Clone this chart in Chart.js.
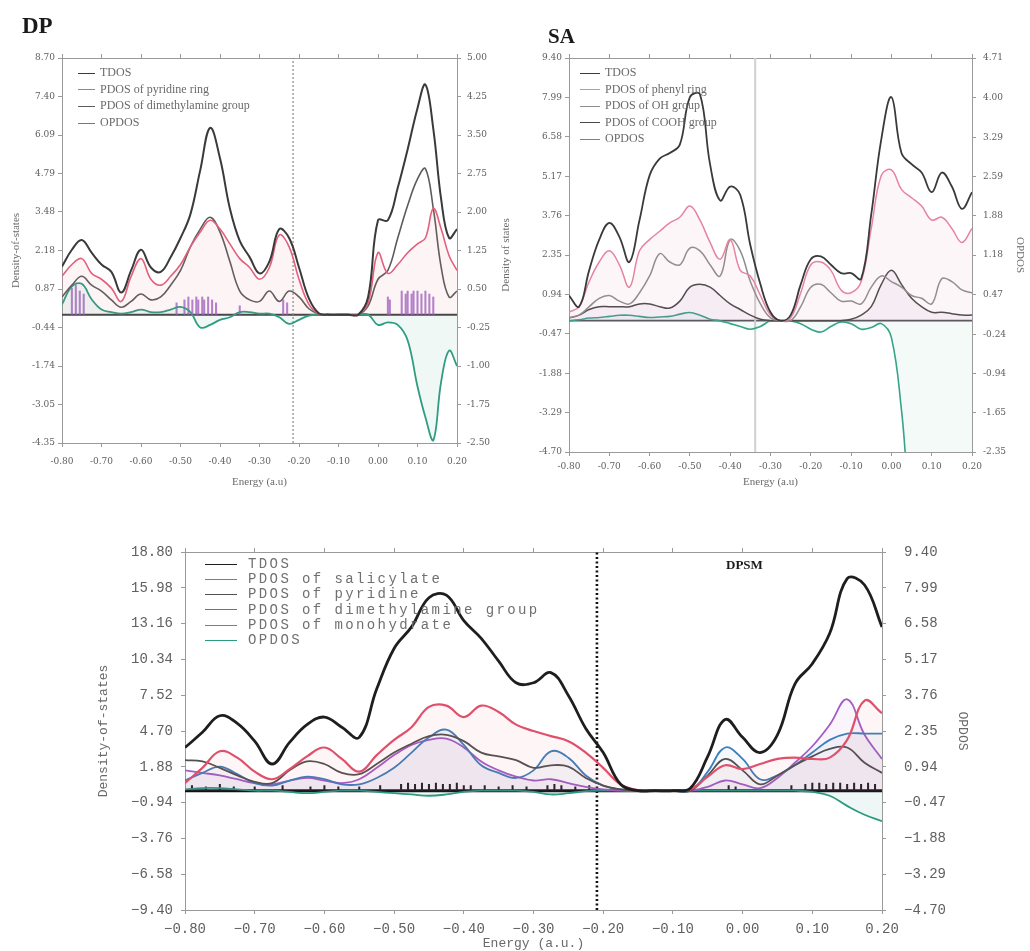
<!DOCTYPE html>
<html>
<head>
<meta charset="utf-8">
<title>DOS / OPDOS</title>
<script src="https://cdn.jsdelivr.net/npm/chart.js@4.4.1/dist/chart.umd.min.js"></script>
<style>
  body { margin:0; background:#fff; width:1030px; height:951px; position:relative; overflow:hidden; }
  canvas { position:absolute; }
  .ttl { position:absolute; font-family:"Liberation Serif",serif; font-weight:bold; color:#1a1a1a; }
  .leg { position:absolute; color:#6a6a6a; }
  .leg div { white-space:nowrap; }
  .leg i { display:inline-block; vertical-align:middle; border-top:1.5px solid; }
</style>
</head>
<body>
<canvas id="dp" width="510" height="495" style="left:0;top:0"></canvas>
<canvas id="sa" width="530" height="495" style="left:500px;top:0"></canvas>
<canvas id="dpsm" width="900" height="441" style="left:90px;top:510px"></canvas>
<div class="ttl" style="left:22px;top:13px;font-size:23px">DP</div>
<div class="ttl" style="left:548px;top:24px;font-size:21px">SA</div>
<div class="ttl" style="left:726px;top:557px;font-size:13px">DPSM</div>
<div class="leg" id="dpLeg" style="left:78px;top:64px;font:12px 'Liberation Serif',serif;line-height:16.7px"></div>
<div class="leg" id="saLeg" style="left:580px;top:64px;font:12px 'Liberation Serif',serif;line-height:16.5px"></div>
<div class="leg" id="dpsmLeg" style="left:205px;top:557px;font:14px 'Liberation Mono',monospace;letter-spacing:2.4px;line-height:15.2px;color:#707070"></div>
<script>
// shared energy ticks (a.u.)
const xTicks = [-0.8, -0.7, -0.6, -0.5, -0.4, -0.3, -0.2, -0.1, 0, 0.1, 0.2]

// ---------- DP ----------
const dpX = [-0.80,-0.775,-0.75,-0.725,-0.70,-0.675,-0.65,-0.625,-0.60,-0.575,-0.55,-0.525,-0.50,-0.475,-0.45,-0.425,-0.40,-0.375,-0.35,-0.325,-0.30,-0.275,-0.25,-0.225,-0.20,-0.175,-0.15,-0.125,-0.10,-0.075,-0.05,-0.025,0.00,0.025,0.05,0.075,0.10,0.12,0.14,0.16,0.18,0.20]
const dpTdos = [1.63,2.2,2.53,2.1,1.7,1.45,0.75,1.5,2.2,1.6,1.45,1.95,2.6,3.4,4.9,6.33,5.3,3.6,2.5,1.95,1.4,1.8,2.9,2.6,1.6,0.55,0.05,0,0,0,0,0.6,3.2,3.2,4.3,5.6,7.0,7.8,6.3,3.9,2.6,2.9]
const dpPyridine = [1.3,1.7,1.9,1.4,1.2,0.9,0.45,1.3,1.9,1.2,1.0,1.3,1.7,2.3,2.8,3.2,2.9,2.4,1.9,1.6,1.2,1.6,2.7,2.3,1.2,0.35,0.03,0,0,0,0,0.4,2.1,1.4,1.7,2.1,2.4,2.6,3.6,2.9,2.0,1.5]
const dpDimethyl = [0.6,1.0,1.3,1.0,0.8,0.5,0.25,0.45,0.7,0.5,0.6,1.0,1.5,2.3,2.9,3.3,2.8,1.8,0.8,0.5,0.45,0.8,0.45,0.8,0.6,0.2,0.02,0,0,0,0,0.3,1.2,1.5,2.6,3.7,4.6,4.95,3.6,1.6,0.6,0.8]
const dpOpdos = [0.2,0.55,0.6,0.3,0.1,0.05,0.02,0.05,0.1,0.05,0.05,0.1,0.15,0.05,-0.25,-0.2,-0.1,-0.05,0.05,0.05,0.02,0.02,-0.05,-0.18,-0.1,-0.02,0,0,0,0,0,0,-0.2,-0.15,-0.2,-0.5,-1.4,-2.0,-2.45,-1.3,-0.7,-1.0]
const dpStickX = [-0.775,-0.765,-0.755,-0.745,-0.51,-0.49,-0.48,-0.47,-0.46,-0.455,-0.445,-0.44,-0.43,-0.42,-0.41,-0.35,-0.24,-0.23,0.025,0.03,0.06,0.07,0.075,0.085,0.09,0.10,0.11,0.12,0.13,0.14]
const dpStickH = [0.9,1.0,0.8,0.7,0.4,0.5,0.6,0.5,0.6,0.5,0.6,0.5,0.6,0.5,0.4,0.3,0.5,0.4,0.6,0.5,0.8,0.7,0.8,0.7,0.8,0.8,0.7,0.8,0.7,0.6]
const dpLeftTicks = ['8.70','7.40','6.09','4.79','3.48','2.18','0.87','-0.44','-1.74','-3.05','-4.35']
const dpRightTicks = ['5.00','4.25','3.50','2.75','2.00','1.25','0.50','-0.25','-1.00','-1.75','-2.50']
const dpSplit = -0.215

// ---------- SA ----------
const saX = [-0.80,-0.775,-0.75,-0.725,-0.70,-0.675,-0.65,-0.625,-0.60,-0.575,-0.55,-0.525,-0.50,-0.475,-0.45,-0.425,-0.40,-0.375,-0.35,-0.325,-0.30,-0.275,-0.25,-0.225,-0.20,-0.175,-0.15,-0.125,-0.10,-0.075,-0.05,-0.025,0.00,0.025,0.05,0.075,0.10,0.125,0.15,0.175,0.20]
const saTdos = [0.9,0.5,1.8,2.9,3.5,3.0,2.1,3.6,5.2,5.8,6.0,6.3,8.0,8.1,5.6,4.3,4.8,4.5,2.7,1.3,0.3,0,0.2,1.3,2.2,2.3,2.0,1.7,1.7,1.5,3.8,6.5,8.0,6.0,5.6,5.3,4.6,5.3,4.8,4.0,4.6]
const saPhenyl = [0.3,0.5,1.4,2.1,2.5,2.0,1.2,2.5,2.9,3.2,3.5,3.7,4.1,3.6,2.8,2.2,2.9,1.8,1.6,0.9,0.2,0,0.1,1.0,2.0,2.1,1.8,1.1,1.0,1.4,3.3,5.2,5.4,4.7,4.4,4.1,3.6,3.7,3.3,2.8,3.3]
const saOh = [0.1,0.2,0.5,0.8,0.9,0.7,0.6,1.0,1.6,2.4,2.1,2.0,2.6,2.5,2.0,1.6,2.9,2.5,1.4,0.6,0.1,0,0,0.5,1.2,1.3,1.0,0.7,0.7,0.6,1.2,1.6,1.4,1.2,0.9,0.8,0.6,1.5,1.4,1.1,1.0]
const saCoo = [0.1,0.2,0.4,0.5,0.5,0.5,0.5,0.6,0.6,0.5,0.45,0.7,1.2,1.3,1.2,0.9,0.6,0.4,0.2,0.05,0,0,0,0,0,0,0,0,0.05,0.2,0.5,1.3,1.8,1.3,0.8,0.5,0.3,0.3,0.25,0.2,0.2]
const saOpdos = [0,0.02,0.05,0.06,0.08,0.1,0.1,0.08,0.06,0.07,0.08,0.12,0.15,0.1,0.03,0,-0.05,-0.1,-0.15,-0.1,0,0,0,-0.05,-0.15,-0.2,-0.1,-0.02,-0.05,-0.15,-0.12,-0.05,-0.3,-1.6,-3.5,-4,-4,-4,-4,-4,-4]
const saLeftTicks = ['9.40','7.99','6.58','5.17','3.76','2.35','0.94','-0.47','-1.88','-3.29','-4.70']
const saRightTicks = ['4.71','4.00','3.29','2.59','1.88','1.18','0.47','-0.24','-0.94','-1.65','-2.35']
const saSplit = -0.338

// ---------- DPSM ----------
const dpsmX = saX
const dpsmTdos = [3.4,4.6,5.9,5.3,3.9,2.1,3.8,5.2,5.8,5.0,4.2,8.0,11.2,12.9,15.2,15.4,13.4,12.0,10.2,8.5,8.5,9.3,7.5,4.9,3.0,0.5,0,0,0,0.2,2.7,5.6,4.2,3.0,4.4,8.4,10.0,12.4,16.7,16.2,12.9]
const dpsmSalicylate = [0.6,1.8,3.1,2.6,1.5,0.9,1.7,2.7,3.4,2.5,1.5,2.8,4.0,5.0,6.6,6.7,5.8,6.7,6.2,5.2,4.7,4.3,3.9,3.0,1.8,0.5,0.05,0,0,0.1,1.1,2.0,1.7,2.1,2.5,2.6,2.5,2.6,4.0,7.1,6.1]
const dpsmPyridine = [2.4,2.3,1.8,1.2,0.7,0.6,1.6,2.3,2.1,1.4,1.3,2.1,3.0,3.7,4.3,4.4,3.9,3.0,2.7,2.4,1.8,2.0,1.9,1.0,0.4,0.1,0,0,0,0,1.2,2.5,1.6,0.5,1.2,2.0,2.7,3.3,3.4,2.2,1.4]
const dpsmDimethyl = [0.8,1.4,1.9,1.3,0.6,0.4,0.8,1.1,0.9,0.5,0.5,1.0,1.8,3.0,4.2,4.8,3.6,2.0,1.4,1.0,1.6,3.1,2.6,1.2,0.4,0.1,0,0,0,0,1.5,3.4,2.5,0.9,1.2,2.0,3.0,4.0,4.5,4.5,4.5]
const dpsmMonohydrate = [1.6,1.4,1.2,0.9,0.6,0.5,0.8,1.0,0.8,0.6,0.9,1.8,2.8,3.6,4.0,4.1,3.4,2.3,1.6,1.1,0.8,0.9,0.6,0.3,0.1,0,0,0,0,0,0.3,0.8,0.5,0.2,1.0,2.2,3.5,5.2,7.2,4.4,2.5]
const dpsmOpdos = [0.05,0.1,0.1,0.05,0,0,-0.05,-0.1,-0.05,0,0,-0.05,-0.1,-0.15,-0.2,-0.15,-0.05,0,0,0,-0.05,-0.15,-0.1,-0.02,0,0,0,0,0,0,0,0,0,0,0,0,-0.05,-0.2,-0.6,-0.95,-1.2]
const dpsmStickX = [-0.79,-0.77,-0.75,-0.73,-0.70,-0.66,-0.62,-0.60,-0.58,-0.55,-0.52,-0.49,-0.48,-0.47,-0.46,-0.45,-0.44,-0.43,-0.42,-0.41,-0.40,-0.39,-0.37,-0.35,-0.33,-0.31,-0.28,-0.27,-0.26,-0.24,-0.22,-0.02,-0.01,0.07,0.09,0.10,0.11,0.12,0.13,0.14,0.15,0.16,0.17,0.18,0.19]
const dpsmStickH = [0.4,0.3,0.5,0.3,0.3,0.4,0.3,0.4,0.3,0.3,0.4,0.5,0.6,0.5,0.6,0.5,0.6,0.5,0.5,0.6,0.4,0.4,0.4,0.3,0.4,0.3,0.4,0.5,0.4,0.3,0.4,0.4,0.3,0.4,0.5,0.6,0.6,0.5,0.6,0.6,0.5,0.6,0.5,0.6,0.5]
const dpsmLeftTicks = ['18.80','15.98','13.16','10.34','7.52','4.70','1.88','\u22120.94','\u22123.76','\u22126.58','\u22129.40']
const dpsmRightTicks = ['9.40','7.99','6.58','5.17','3.76','2.35','0.94','\u22120.47','\u22121.88','\u22123.29','\u22124.70']
const dpsmSplit = -0.209

const axisColor = '#9a9a9a'
const num = l => parseFloat(l.replace('\u2212', '-'))
const pts = (xs, ys) => xs.map((x, i) => ({ x: x, y: ys[i] }))

function legend(id, series, swatch, gap) {
  document.getElementById(id).innerHTML = series.map(s =>
    `<div><i style="width:${swatch}px;margin-right:${gap}px;border-color:${s.color}"></i>${s.name}</div>`).join('')
}

function yAxis(labels, o, side) {
  return {
    type: 'linear', position: side, min: num(labels[labels.length - 1]), max: num(labels[0]),
    afterBuildTicks: s => { s.ticks = labels.map(l => ({ value: num(l) })).reverse() },
    afterFit: s => { s.width = side === 'left' ? o.box.left : o.box.right },
    ticks: {
      callback: v => labels.find(l => Math.abs(num(l) - v) < 1e-6),
      font: o.tickFont, color: '#606060', padding: side === 'left' ? o.yPad : o.y1Pad
    },
    grid: { drawOnChartArea: false, tickLength: 4, color: axisColor },
    border: { color: axisColor },
    title: {
      display: !!(side === 'left' ? o.yTitle : o.y1Title),
      text: side === 'left' ? o.yTitle : o.y1Title,
      font: o.titleFont, color: '#6a6a6a',
      padding: { top: side === 'left' ? o.yTitlePad : o.y1TitlePad, bottom: 0 }
    }
  }
}

function panel(id, o) {
  const x0 = xTicks[0], x1 = xTicks[xTicks.length - 1]
  const sets = o.series.map(s => ({
    label: s.name, data: pts(o.x, s.y), yAxisID: s.right ? 'y1' : 'y',
    borderColor: s.color, borderWidth: s.width, pointRadius: 0, tension: 0.4,
    backgroundColor: s.tint || 'transparent', fill: s.tint ? 'origin' : false
  }))
  if (o.sticks) {
    sets.push({ type: 'bar', data: pts(o.sticks.x, o.sticks.h), yAxisID: 'y',
      backgroundColor: o.sticks.color, barThickness: 1.4, grouped: false })
  }
  // HOMO/LUMO separator and zero baseline
  sets.push({ data: [{ x: o.split, y: num(o.yLabels[o.yLabels.length - 1]) }, { x: o.split, y: num(o.yLabels[0]) }],
    yAxisID: 'y', borderColor: o.splitStyle.color, borderWidth: o.splitStyle.width,
    borderDash: o.splitStyle.dash, pointRadius: 0, fill: false })
  sets.push({ data: [{ x: x0, y: 0 }, { x: x1, y: 0 }], yAxisID: 'y',
    borderColor: o.baseStyle.color, borderWidth: o.baseStyle.width, pointRadius: 0, fill: false })

  const xTickCfg = s => { s.ticks = xTicks.map(v => ({ value: v })) }
  new Chart(document.getElementById(id), {
    type: 'line',
    data: { datasets: sets },
    options: {
      responsive: false, animation: false,
      layout: { padding: 0 },
      plugins: { legend: { display: false }, tooltip: { enabled: false } },
      scales: {
        x: {
          type: 'linear', position: 'bottom', min: x0, max: x1, offset: false,
          afterBuildTicks: xTickCfg,
          afterFit: s => { s.height = o.box.bottom },
          ticks: { callback: v => o.xFmt(v), font: o.tickFont, color: '#606060', padding: o.xPad, maxRotation: 0, autoSkip: false },
          grid: { drawOnChartArea: false, tickLength: 4, color: axisColor, offset: false },
          border: { color: axisColor },
          title: { display: true, text: o.xTitle, font: o.titleFont, color: '#6a6a6a', padding: { top: 0, bottom: o.xTitlePad } }
        },
        x2: {
          type: 'linear', position: 'top', min: x0, max: x1, offset: false,
          afterBuildTicks: xTickCfg,
          afterFit: s => { s.height = o.box.top },
          ticks: { display: false },
          grid: { drawOnChartArea: false, tickLength: 4, color: axisColor, offset: false },
          border: { color: axisColor }
        },
        y: yAxis(o.yLabels, o, 'left'),
        y1: yAxis(o.y1Labels, o, 'right')
      }
    }
  })
}

const plainX = v => v.toFixed(2)
const minusX = v => v.toFixed(2).replace('-', '\u2212')

const dpSeries = [
  { name: 'TDOS', y: dpTdos, color: '#3a3a3a', width: 2 },
  { name: 'PDOS of pyridine ring', y: dpPyridine, color: '#e2607c', width: 1.6, tint: 'rgba(226,96,124,0.07)' },
  { name: 'PDOS of dimethylamine group', y: dpDimethyl, color: '#5c5c5c', width: 1.6 },
  { name: 'OPDOS', y: dpOpdos, color: '#2f9c82', width: 1.8, right: true, tint: 'rgba(47,156,130,0.07)' }
]
panel('dp', {
  x: dpX, series: dpSeries, yLabels: dpLeftTicks, y1Labels: dpRightTicks,
  sticks: { x: dpStickX, h: dpStickH, color: 'rgba(150,90,190,0.75)' },
  split: dpSplit, splitStyle: { color: '#8a8a8a', width: 1.2, dash: [2, 2] },
  baseStyle: { color: '#444', width: 2 },
  box: { left: 62, right: 53, top: 58, bottom: 52 },
  tickFont: { family: 'DejaVu Serif', size: 9 }, titleFont: { family: 'Liberation Serif', size: 11 },
  xFmt: plainX, xPad: 9, yPad: 3, y1Pad: 6, xTitle: 'Energy (a.u)', xTitlePad: 6,
  yTitle: 'Density-of-states', yTitlePad: 10
})
legend('dpLeg', dpSeries, 17, 5)

const saSeries = [
  { name: 'TDOS', y: saTdos, color: '#3a3a3a', width: 1.8 },
  { name: 'PDOS of phenyl ring', y: saPhenyl, color: '#e684a0', width: 1.5, tint: 'rgba(230,132,160,0.07)' },
  { name: 'PDOS of OH group', y: saOh, color: '#8e8e8e', width: 1.5 },
  { name: 'PDOS of COOH group', y: saCoo, color: '#4a4a4a', width: 1.5, tint: 'rgba(150,110,200,0.08)' },
  { name: 'OPDOS', y: saOpdos, color: '#36a38a', width: 1.6, right: true, tint: 'rgba(54,163,138,0.06)' }
]
panel('sa', {
  x: saX, series: saSeries, yLabels: saLeftTicks, y1Labels: saRightTicks,
  split: saSplit, splitStyle: { color: '#d0d0d0', width: 2, dash: [] },
  baseStyle: { color: '#555', width: 1.8 },
  box: { left: 69, right: 58, top: 58, bottom: 43 },
  tickFont: { family: 'DejaVu Serif', size: 9 }, titleFont: { family: 'Liberation Serif', size: 11 },
  xFmt: plainX, xPad: 5, yPad: 3, y1Pad: 7, xTitle: 'Energy (a.u)', xTitlePad: 6,
  yTitle: 'Density of states', yTitlePad: 0, y1Title: 'OPDOS', y1TitlePad: 4
})
legend('saLeg', saSeries, 20, 5)

const dpsmSeries = [
  { name: 'TDOS', y: dpsmTdos, color: '#1e1e1e', width: 2.8 },
  { name: 'PDOS of salicylate', y: dpsmSalicylate, color: '#e0506c', width: 2.2, tint: 'rgba(224,80,108,0.06)' },
  { name: 'PDOS of pyridine', y: dpsmPyridine, color: '#505050', width: 1.8 },
  { name: 'PDOS of dimethylamine group', y: dpsmDimethyl, color: '#3d7fb8', width: 1.8, tint: 'rgba(61,127,184,0.05)' },
  { name: 'PDOS of monohydrate', y: dpsmMonohydrate, color: '#a45cc6', width: 1.8, tint: 'rgba(164,92,198,0.06)' },
  { name: 'OPDOS', y: dpsmOpdos, color: '#2a9a80', width: 1.8, right: true, tint: 'rgba(42,154,128,0.08)' }
]
panel('dpsm', {
  x: dpsmX, series: dpsmSeries, yLabels: dpsmLeftTicks, y1Labels: dpsmRightTicks,
  sticks: { x: dpsmStickX, h: dpsmStickH, color: '#1a1a1a' },
  split: dpsmSplit, splitStyle: { color: '#111', width: 2.6, dash: [2, 2.5] },
  baseStyle: { color: '#111', width: 3 },
  box: { left: 95, right: 108, top: 42, bottom: 41 },
  tickFont: { family: 'Liberation Mono', size: 14 }, titleFont: { family: 'Liberation Mono', size: 13 },
  xFmt: minusX, xPad: 7, yPad: 8, y1Pad: 18, xTitle: 'Energy (a.u.)', xTitlePad: 0,
  yTitle: 'Density-of-states', yTitlePad: 6, y1Title: 'OPDOS', y1TitlePad: 20
})
legend('dpsmLeg', dpsmSeries, 32, 11)
</script>
</body>
</html>
